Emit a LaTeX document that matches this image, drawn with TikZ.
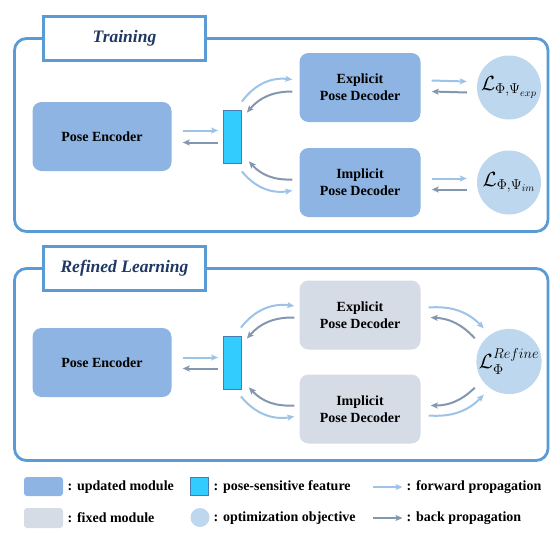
\RequirePackage{fix-cm}
\documentclass[tikz,border=0pt]{standalone}
\usepackage{amsmath,amssymb}
\usepackage{xcolor}
\usepackage{fontspec}
\setmainfont{Liberation Serif}
\usetikzlibrary{positioning}
\usetikzlibrary{arrows.meta,shapes}

\definecolor{updc}{HTML}{8DB4E2}
\definecolor{fixc}{HTML}{D6DCE5}
\definecolor{objc}{HTML}{BDD7EE}
\definecolor{featc}{HTML}{33CCFF}
\definecolor{framec}{HTML}{5B9BD5}
\definecolor{fwdc}{HTML}{9DC3E6}
\definecolor{bwdc}{HTML}{8497B0}
\definecolor{titlec}{HTML}{203864}

\begin{document}
\begin{tikzpicture}[x=1pt,y=1pt,on grid,
   module/.style={rounded corners=9pt,minimum width=139pt,minimum height=69pt,
     align=center,font=\fontsize{14}{17}\selectfont\bfseries},
   updated/.style={module,fill=updc},
   fixed/.style={module,fill=fixc},
   decoder/.style={minimum width=121pt},
   feature/.style={draw=framec!80!black,line width=0.8pt,fill=featc,
     minimum width=18pt,minimum height=53pt,inner sep=0pt},
   objective/.style={circle,fill=objc,minimum size=64pt,inner sep=0pt,
     font=\fontsize{20.5}{22}\selectfont},
   frame/.style={draw=framec,line width=2.8pt,rounded corners=12pt},
   title/.style={draw=framec,line width=2.8pt,fill=white,minimum width=162pt,
     minimum height=44pt,text=titlec,font=\fontsize{17.5}{20}\selectfont\bfseries\itshape},
   fwd/.style={-{Stealth[length=7pt,width=6pt,inset=1.5pt]},line width=2pt,fwdc},
   bwd/.style={-{Stealth[length=7pt,width=6pt,inset=1.5pt]},line width=2pt,bwdc},
   key/.style={anchor=west,inner sep=0pt,font=\fontsize{14}{16}\selectfont\bfseries}
]
   \useasboundingbox (0,0) rectangle (560,-541);

   % Training
   \draw[frame] (14.5,-38.5) rectangle (548,-231.5);
   \node[title] (t1) at (124.5,-38.5) {Training};
   \node[updated] (enc1) at (102,-136.5) {Pose Encoder};
   \node[feature] (bar1) [right=130.5pt of enc1] {};
   \node[updated,decoder] (exp1) [above right=49pt and 127.5pt of bar1] {Explicit\\Pose Decoder};
   \node[updated,decoder] (imp1) [below right=46pt and 127.5pt of bar1] {Implicit\\Pose Decoder};
   \node[objective] (lexp) [right=149pt of exp1] {$\mathcal{L}_{\Phi,\Psi_{exp}}$};
   \node[objective] (lim) [right=149pt of imp1] {$\mathcal{L}_{\Phi,\Psi_{im}}$};
   \draw[fwd] ([xshift=11pt,yshift=6pt]enc1.east) -- ([xshift=-5pt,yshift=6pt]bar1.west);
   \draw[bwd] ([xshift=-5pt,yshift=-6pt]bar1.west) -- ([xshift=11pt,yshift=-6pt]enc1.east);
   \draw[fwd] ([shift={(0pt,8pt)}]bar1.north east) to[bend left=30] ([shift={(-7pt,8pt)}]exp1.west);
   \draw[bwd] ([shift={(-7pt,-4pt)}]exp1.west) to[bend right=25] ([shift={(5pt,-3pt)}]bar1.north east);
   \draw[bwd] ([shift={(-7pt,3pt)}]imp1.west) to[bend left=25] ([shift={(7pt,2pt)}]bar1.south east);
   \draw[fwd] ([shift={(0pt,-8pt)}]bar1.south east) to[bend right=30] ([shift={(-7pt,-8pt)}]imp1.west);
   \draw[fwd] ([xshift=11pt,yshift=7pt]exp1.east) -- ([xshift=-10pt,yshift=6pt]lexp.west);
   \draw[bwd] ([xshift=-10pt,yshift=-5pt]lexp.west) -- ([xshift=11pt,yshift=-4pt]exp1.east);
   \draw[fwd] ([xshift=11pt,yshift=4pt]imp1.east) -- ([xshift=-10pt,yshift=4pt]lim.west);
   \draw[bwd] ([xshift=-10pt,yshift=-7pt]lim.west) -- ([xshift=11pt,yshift=-7pt]imp1.east);

   % Refined Learning
   \draw[frame] (14.5,-268.5) rectangle (548,-460.5);
   \node[title] (t2) at (124.5,-268.5) {Refined Learning};
   \node[updated] (enc2) at (102,-362.5) {Pose Encoder};
   \node[feature] (bar2) [right=130.5pt of enc2] {};
   \node[fixed,decoder] (exp2) [above right=47.5pt and 127.5pt of bar2] {Explicit\\Pose Decoder};
   \node[fixed,decoder] (imp2) [below right=46.5pt and 127.5pt of bar2] {Implicit\\Pose Decoder};
   \node[objective] (lref) [below right=46.5pt and 149pt of exp2] {$\mathcal{L}_{\Phi}^{Refine}$};
   \draw[fwd] ([xshift=11pt,yshift=5pt]enc2.east) -- ([xshift=-5pt,yshift=5pt]bar2.west);
   \draw[bwd] ([xshift=-5pt,yshift=-6pt]bar2.west) -- ([xshift=11pt,yshift=-6pt]enc2.east);
   \draw[fwd] ([shift={(-1pt,8pt)}]bar2.north east) to[bend left=30] ([shift={(-5pt,9pt)}]exp2.west);
   \draw[bwd] ([shift={(-5pt,-2.5pt)}]exp2.west) to[bend right=25] ([shift={(5pt,-3pt)}]bar2.north east);
   \draw[bwd] ([shift={(-5pt,3.5pt)}]imp2.west) to[bend left=25] ([shift={(7pt,2pt)}]bar2.south east);
   \draw[fwd] ([shift={(-1pt,-7pt)}]bar2.south east) to[bend right=30] ([shift={(-5pt,-7.5pt)}]imp2.west);
   \draw[fwd] ([shift={(8pt,7.5pt)}]exp2.east) to[bend left=25] ([shift={(-2pt,10pt)}]lref.north west);
   \draw[bwd] ([shift={(-11pt,0pt)}]lref.north west) to[bend right=22] ([shift={(10pt,-2.5pt)}]exp2.east);
   \draw[bwd] ([shift={(-11pt,-3pt)}]lref.south west) to[bend left=22] ([shift={(10pt,3.5pt)}]imp2.east);
   \draw[fwd] ([shift={(8pt,-6.5pt)}]imp2.east) to[bend right=25] ([shift={(-2pt,-10pt)}]lref.south west);

   % legend
   \node[updated,minimum width=39pt,minimum height=19pt,rounded corners=3pt] (kupd) at (43.5,-486.5) {};
   \node[fixed,minimum width=39pt,minimum height=20pt,rounded corners=3pt] (kfix) at (43.5,-518) {};
   \node[feature,minimum width=18pt,minimum height=18pt] (kfeat) at (199.5,-486.5) {};
   \node[objective,minimum size=19pt] (kobj) at (200,-517.5) {};
   \node[key] (tupd) at (67.5,-487) {: updated module};
   \node[key] (tfix) at (67.5,-518) {: fixed module};
   \node[key] (tfeat) at (213.5,-487) {: pose-sensitive feature};
   \node[key] (tobj) at (213.5,-518) {: optimization objective};
   \node[key] (tfwd) at (406.5,-487) {: forward propagation};
   \node[key] (tbwd) at (406.5,-518) {: back propagation};
   \draw[fwd] ([xshift=-34pt]tfwd.west) -- ([xshift=-4pt]tfwd.west);
   \draw[bwd] ([xshift=-34pt]tbwd.west) -- ([xshift=-4pt]tbwd.west);
\end{tikzpicture}
\end{document}
